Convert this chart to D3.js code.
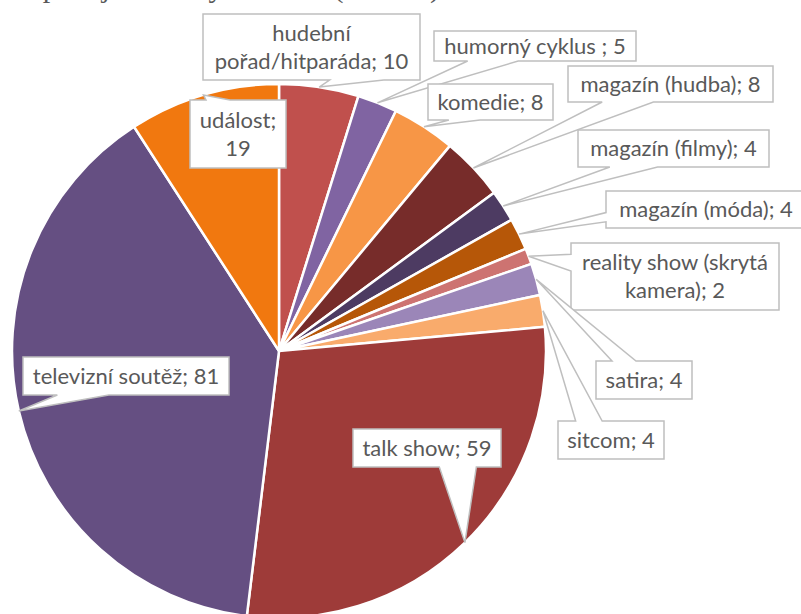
<!DOCTYPE html>
<html>
<head>
<meta charset="utf-8">
<style>
  body { margin: 0; background: #fff; }
  svg { display: block; }
  .lbl text { font-family: Lato, "Open Sans", sans-serif; font-size: 22px; fill: #595959; }
</style>
</head>
<body>
<script src="https://d3js.org/d3.v7.min.js"></script>
<script>

// data (clockwise from 12 o'clock)
const categories = [
  "hudební pořad/hitparáda", "humorný cyklus ", "komedie", "magazín (hudba)",
  "magazín (filmy)", "magazín (móda)", "reality show (skrytá kamera)", "satira",
  "sitcom", "talk show", "televizní soutěž", "událost"
];
const values = [10, 5, 8, 8, 4, 4, 2, 4, 4, 59, 81, 19];
const colors = [
  "#C0504D", "#8064A2", "#F79646", "#772C2A", "#4D3B62", "#B65708",
  "#CD7371", "#9B86B8", "#F9AB6C", "#9E3B39", "#654F82", "#F1780F"
];

// callout boxes (left, top, width, height)
const boxes = [
  [203, 14, 217, 66], [434, 31, 202, 30], [428, 84, 125, 36], [568, 66, 205, 36],
  [578, 130, 191, 37], [606, 191, 200, 37], [571, 243, 208, 67], [596, 361, 96, 38],
  [558, 421, 106, 38], [353, 429, 148, 38], [23, 357, 206, 38], [190, 100, 96, 68]
];

const W = 801, H = 614;
const cx = 279, cy = 351, R = 267;

const svg = d3.select("body").append("svg")
  .attr("width", W)
  .attr("height", H);

// title, only its descenders show at the top edge
svg.append("text")
  .attr("x", 440)
  .attr("y", -3)
  .attr("text-anchor", "end")
  .attr("font-family", "Liberation Serif, serif")
  .attr("font-size", 30)
  .attr("fill", "#595959")
  .text("Zastoupení jednotlivých žánrů (celkem)");

const pie = d3.pie().sort(null).value(d => d)(values);
const arc = d3.arc().innerRadius(0).outerRadius(R);

const g = svg.append("g").attr("transform", `translate(${cx},${cy})`);

g.selectAll("path")
  .data(pie)
  .enter()
  .append("path")
  .attr("d", arc)
  .attr("fill", (d, i) => colors[i])
  .attr("stroke", "#fff")
  .attr("stroke-width", 2.5)
  .attr("stroke-linejoin", "round");

// excel-like wedge rectangle callout
function callout(x, y, w, h, tx, ty) {
  const dx = tx - (x + w / 2), dy = ty - (y + h / 2);
  const horiz = Math.abs(dx) / w > Math.abs(dy) / h;
  const p = [];
  p.push([x, y]);
  if (!horiz && dy < 0) {
    const a = dx < 0 ? w / 6 : 7 * w / 12, b = dx < 0 ? 5 * w / 12 : 5 * w / 6;
    p.push([x + a, y], [tx, ty], [x + b, y]);
  }
  p.push([x + w, y]);
  if (horiz && dx > 0) {
    const a = dy < 0 ? h / 6 : 7 * h / 12, b = dy < 0 ? 5 * h / 12 : 5 * h / 6;
    p.push([x + w, y + a], [tx, ty], [x + w, y + b]);
  }
  p.push([x + w, y + h]);
  if (!horiz && dy > 0) {
    const a = dx < 0 ? w / 6 : 7 * w / 12, b = dx < 0 ? 5 * w / 12 : 5 * w / 6;
    p.push([x + b, y + h], [tx, ty], [x + a, y + h]);
  }
  p.push([x, y + h]);
  if (horiz && dx < 0) {
    const a = dy < 0 ? h / 6 : 7 * h / 12, b = dy < 0 ? 5 * h / 12 : 5 * h / 6;
    p.push([x, y + b], [tx, ty], [x, y + a]);
  }
  return "M" + p.map(q => q.join(",")).join("L") + "Z";
}

const labels = svg.append("g").attr("class", "lbl");

pie.forEach((d, i) => {
  const [bx, by, bw, bh] = boxes[i];
  const a = (d.startAngle + d.endAngle) / 2;
  const tx = cx + R * Math.sin(a), ty = cy - R * Math.cos(a);
  const grp = labels.append("g");
  grp.append("path")
    .attr("d", callout(bx, by, bw, bh, tx, ty))
    .attr("fill", "#fff")
    .attr("stroke", "#BFBFBF")
    .attr("stroke-width", 1.5)
    .attr("stroke-linejoin", "miter");

  // wrap label into the box
  const words = (categories[i] + "; " + values[i]).split(" ");
  const t = grp.append("text").attr("text-anchor", "middle");
  const lines = [];
  let cur = "";
  words.forEach(wd => {
    const test = cur === "" ? wd : cur + " " + wd;
    t.text(test);
    if (t.node().getComputedTextLength() > bw - 8 && cur !== "") {
      lines.push(cur);
      cur = wd;
    } else {
      cur = test;
    }
  });
  lines.push(cur);
  t.text(null);
  const lh = 28;
  const y0 = by + bh / 2 - (lines.length - 1) * lh / 2;
  lines.forEach((ln, k) => {
    t.append("tspan")
      .attr("x", bx + bw / 2)
      .attr("y", y0 + k * lh)
      .attr("dy", "0.35em")
      .text(ln);
  });
});

</script>
</body>
</html>
